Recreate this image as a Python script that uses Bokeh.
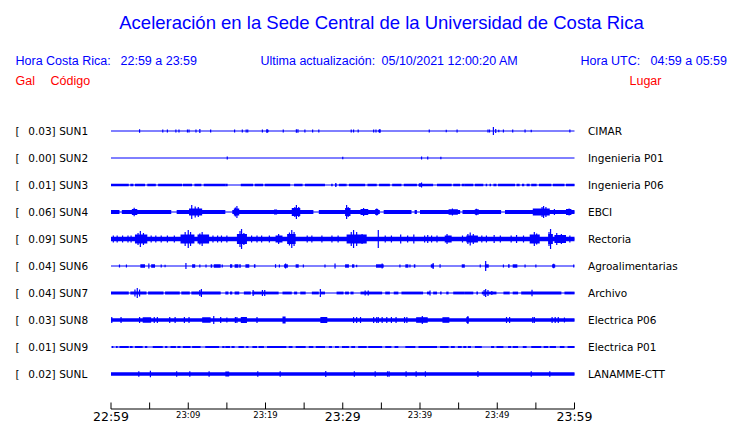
from bokeh.plotting import figure
from bokeh.models import Range1d, ColumnDataSource
from bokeh.core.properties import value
from bokeh.embed import file_html
from bokeh.resources import INLINE

# ---------------- data ----------------
codes = ["SUN1", "SUN2", "SUN3", "SUN4", "SUN5", "SUN6", "SUN7", "SUN8", "SUN9", "SUNL"]
gal = ["0.03", "0.00", "0.01", "0.06", "0.09", "0.04", "0.04", "0.03", "0.01", "0.02"]
places = ["CIMAR", "Ingenieria P01", "Ingenieria P06", "EBCI", "Rectoria",
          "Agroalimentarias", "Archivo", "Electrica P06", "Electrica P01", "LANAMME-CTT"]

tick_minutes = [0, 5, 10, 15, 20, 25, 30, 35, 40, 45, 50, 55, 60]
major_minutes = [0, 30, 60]
major_labels = ["22:59", "23:29", "23:59"]
minor_minutes = [10, 20, 40, 50]
minor_labels = ["23:09", "23:19", "23:39", "23:49"]

# envelope of each trace: base half-amplitude, noisy bands (t0, t1, amp), spikes (t, amp)
# times in minutes after 22:59
base_amp = [0.5, 0.5, 0.5, 0.5, 2.3, 0.5, 0.5, 1.7, 0.5, 1.7]

sun1_bands = [(20.1, 20.4, 1.2), (34.6, 34.9, 1.2)]
sun1_spikes = [(3.7, 1.7), (6.7, 1.5), (7.3, 1.5), (8.4, 1.5), (8.8, 1.5), (9.9, 1.5), (10.1, 1.5),
               (11.0, 1.5), (11.5, 2.0), (12.9, 1.5), (16.0, 1.5), (17.0, 1.5), (17.5, 1.5), (17.7, 1.5),
               (19.6, 1.5), (20.2, 2.0), (22.3, 1.5), (24.0, 1.7), (24.2, 1.7), (25.1, 1.5), (26.1, 1.5),
               (26.9, 1.5), (31.1, 1.5), (31.4, 1.5), (32.0, 1.5), (34.0, 1.5), (34.3, 1.5), (34.8, 2.0),
               (41.2, 1.5), (43.4, 1.2), (44.8, 1.5), (48.8, 1.5), (49.0, 1.5), (49.5, 4.0), (49.8, 2.0),
               (50.2, 1.2), (50.8, 1.5), (52.0, 1.5), (53.6, 1.5), (54.4, 1.2), (59.4, 1.5)]

sun2_bands = []
sun2_spikes = [(15.05, 1.5), (30.0, 1.2), (40.2, 1.5), (41.0, 1.5), (42.7, 1.2)]

sun3_bands = [(0.0, 2.3, 1.3), (2.5, 2.9, 1.3), (3.1, 4.4, 1.3), (4.7, 5.8, 1.3), (6.1, 9.2, 1.3),
              (9.3, 10.5, 1.3), (10.8, 11.7, 1.3), (12.0, 14.8, 1.3), (14.8, 15.1, 1.3), (16.8, 18.4, 1.3),
              (18.6, 19.7, 1.3), (19.9, 23.2, 1.3), (23.7, 24.8, 1.3), (25.1, 27.7, 1.3), (28.5, 28.7, 1.3),
              (29.0, 29.2, 1.3), (29.5, 30.3, 1.3), (30.3, 30.5, 1.3), (30.8, 32.9, 1.3), (33.2, 34.4, 1.3),
              (34.7, 36.1, 1.3), (36.4, 37.6, 1.3), (37.9, 39.6, 1.3), (39.8, 41.7, 1.3), (42.2, 44.1, 1.3),
              (44.3, 45.2, 1.3), (45.4, 45.8, 1.3), (45.8, 46.9, 1.3), (47.1, 48.2, 1.3), (48.5, 48.7, 1.3),
              (49.0, 49.2, 1.3), (49.5, 49.9, 1.3), (50.1, 52.3, 1.3), (52.5, 52.9, 1.3), (53.2, 53.5, 1.3),
              (53.8, 54.2, 1.3), (54.4, 55.1, 1.3), (55.4, 57.0, 1.3), (57.2, 58.7, 1.3), (58.9, 60.0, 1.3)]
sun3_spikes = [(29.1, 2.0), (40.2, 2.5), (40.0, 2.0)]

sun4_bands = [(0.0, 1.1, 2.0), (1.4, 7.8, 2.0), (8.5, 14.8, 2.0), (15.7, 26.2, 2.0), (26.9, 34.8, 2.0),
              (35.3, 38.9, 2.0), (39.3, 39.6, 2.0), (40.0, 45.2, 2.0), (45.5, 50.5, 2.0), (51.0, 60.0, 2.0),
              (2.7, 3.4, 3.0), (10.1, 11.8, 3.5), (15.9, 16.6, 3.5), (21.1, 21.5, 2.5), (23.4, 24.5, 4.0),
              (30.3, 31.0, 4.0), (32.3, 33.3, 3.0), (34.2, 34.6, 3.0), (43.7, 44.9, 2.7), (47.1, 47.6, 2.7),
              (54.6, 56.8, 3.5), (58.9, 59.6, 3.0)]
sun4_spikes = [(3.0, 4.2), (10.45, 7.0), (10.9, 5.5), (11.3, 5.0), (16.3, 6.0), (16.1, 4.5), (24.0, 7.0),
               (23.8, 5.0), (24.3, 5.0), (30.5, 7.0), (30.7, 5.0), (32.7, 4.0), (34.4, 3.5), (44.2, 3.5),
               (47.3, 3.3), (55.8, 5.0), (56.0, 6.0), (56.3, 5.0), (57.4, 3.0), (59.3, 3.5)]

sun5_bands = [(3.1, 4.7, 4.5), (9.0, 10.8, 4.5), (11.2, 12.7, 4.5), (16.3, 17.6, 5.0), (21.3, 22.2, 3.5),
              (22.8, 23.9, 5.0), (30.5, 33.1, 4.5), (43.2, 44.1, 3.5), (46.0, 47.5, 3.5), (54.2, 55.5, 4.5),
              (56.6, 57.2, 5.0), (57.4, 58.9, 4.0)]
sun5_spikes = [(0.3, 3.5), (0.8, 3.5), (1.5, 3.5), (2.2, 3.5), (2.6, 3.5), (5.2, 3.5), (5.8, 3.5),
               (6.5, 3.5), (7.3, 3.5), (8.2, 3.5), (13.2, 3.5), (13.8, 3.5), (14.3, 3.5), (15.0, 3.5),
               (18.2, 3.5), (18.9, 3.5), (19.5, 3.5), (20.5, 3.5), (25.4, 3.5), (26.0, 3.5), (27.3, 3.5),
               (28.6, 3.5), (29.4, 3.5), (35.5, 3.5), (36.3, 3.5), (38.4, 3.5), (40.6, 3.5), (41.5, 3.5),
               (42.2, 3.5), (45.5, 3.5), (48.0, 3.5), (48.6, 3.5), (50.4, 3.5), (51.8, 3.5), (53.4, 3.5),
               (59.4, 3.5),
               (3.8, 8.0), (3.5, 6.0), (4.2, 6.0), (9.6, 7.0), (10.0, 9.0), (10.3, 7.0), (11.8, 7.0),
               (11.5, 5.5), (16.9, 10.0), (16.7, 8.0), (17.2, 6.0), (21.7, 5.0), (23.4, 9.0), (23.1, 6.5),
               (23.7, 7.0), (31.4, 9.0), (31.1, 7.0), (31.8, 7.0), (32.5, 5.0), (34.6, 9.0), (37.5, 4.5),
               (39.2, 4.5), (41.0, 4.0), (43.5, 5.0), (46.5, 6.5), (46.2, 5.0), (46.9, 5.0), (49.6, 4.0),
               (52.5, 4.0), (54.8, 7.0), (55.1, 5.5), (56.9, 10.0), (56.7, 7.0), (57.7, 6.0), (58.3, 5.0)]

sun6_bands = [(3.8, 4.4, 1.7), (5.2, 5.7, 1.7), (10.5, 10.9, 1.7), (12.9, 13.1, 1.7), (13.3, 14.2, 1.7),
              (15.4, 15.7, 1.7), (16.0, 16.5, 1.7), (16.6, 16.8, 1.7), (17.4, 17.9, 1.7), (18.5, 18.7, 1.7),
              (22.4, 22.9, 1.7), (23.9, 24.3, 1.7), (30.3, 30.8, 1.7), (31.2, 31.5, 1.7), (34.3, 35.3, 1.7),
              (38.1, 38.5, 1.7), (39.2, 39.4, 1.7), (41.4, 41.8, 1.7), (45.4, 45.8, 1.7), (48.4, 48.9, 1.7),
              (51.4, 51.6, 1.7), (52.0, 52.6, 1.7), (57.1, 57.5, 1.7)]
sun6_spikes = [(1.1, 1.5), (2.0, 1.5), (4.9, 2.5), (6.5, 1.5), (7.0, 1.2), (9.7, 3.0), (11.5, 1.5),
               (12.3, 1.5), (14.4, 1.5), (21.3, 1.8), (21.8, 1.5), (22.6, 2.5), (24.9, 1.5), (27.7, 1.5),
               (29.0, 2.5), (31.8, 1.2), (35.1, 2.5), (37.4, 1.5), (38.7, 1.5), (41.7, 3.0), (42.6, 1.8),
               (47.8, 1.5), (48.5, 5.0), (50.8, 1.5), (53.6, 1.5), (55.0, 1.5), (57.3, 2.2), (59.9, 1.5)]

sun7_bands = [(0.0, 2.3, 1.4), (2.5, 4.6, 1.4), (4.8, 6.8, 1.4), (7.0, 8.9, 1.4), (9.1, 10.2, 1.4),
              (10.4, 14.2, 1.4), (14.8, 15.2, 1.4), (15.4, 15.7, 1.4), (16.0, 16.6, 1.4), (17.2, 18.1, 1.4),
              (18.3, 21.7, 1.4), (22.2, 23.4, 1.4), (23.7, 24.1, 1.4), (24.5, 25.2, 1.4), (26.0, 26.9, 1.4),
              (27.1, 27.7, 1.4), (29.2, 30.1, 1.4), (30.3, 30.8, 1.4), (31.0, 31.4, 1.4), (32.3, 35.1, 1.4),
              (35.5, 36.1, 1.4), (36.6, 37.2, 1.4), (37.6, 40.4, 1.4), (40.9, 41.3, 1.4), (41.7, 42.2, 1.4),
              (42.6, 42.8, 1.4), (43.4, 43.7, 1.4), (44.3, 45.8, 1.4), (45.8, 46.9, 1.4), (47.3, 47.5, 1.4),
              (48.0, 49.9, 1.4), (50.8, 51.6, 1.4), (52.0, 52.7, 1.4), (53.1, 58.3, 1.4), (58.7, 60.0, 1.4)]
sun7_spikes = [(3.4, 5.0), (3.1, 3.5), (3.7, 3.5), (11.7, 4.0), (11.5, 3.0), (18.4, 3.0), (19.6, 3.0),
               (19.9, 3.0), (27.1, 4.0), (32.9, 2.5), (33.3, 2.5), (41.3, 2.5), (48.5, 4.0), (48.3, 3.0),
               (48.8, 3.0), (49.3, 2.0), (54.5, 3.3)]

sun8_bands = [(4.1, 5.2, 2.8), (11.8, 12.9, 2.7), (16.8, 17.6, 3.0), (22.2, 22.6, 3.5), (27.1, 28.0, 3.0),
              (39.5, 41.0, 2.8), (42.9, 43.8, 2.8), (46.0, 46.3, 3.0)]
sun8_spikes = [(0.1, 3.0), (1.3, 3.0), (3.7, 3.0), (5.6, 3.0), (6.0, 3.0), (7.6, 3.0), (8.3, 3.0),
               (9.5, 3.0), (10.1, 3.0), (13.3, 4.0), (14.2, 3.0), (15.0, 2.5), (16.1, 3.0), (16.3, 3.0),
               (18.9, 3.0), (31.4, 3.0), (31.8, 3.0), (32.3, 3.0), (34.0, 3.0), (34.4, 3.0), (34.6, 3.0),
               (35.1, 3.0), (35.7, 3.0), (36.3, 3.0), (36.9, 3.0), (38.0, 3.0), (38.3, 3.0), (40.3, 4.0),
               (46.2, 4.0), (51.2, 3.0), (51.6, 3.0), (54.6, 3.0), (54.8, 3.0), (57.1, 3.0), (57.5, 3.0),
               (57.9, 3.0), (58.7, 2.5)]

sun9_bands = [(0.13, 0.3, 1.0), (0.65, 0.86, 1.0), (1.1, 2.3, 1.0), (2.45, 2.8, 1.0), (3.1, 4.1, 1.0),
              (4.4, 4.7, 1.0), (5.4, 6.7, 1.0), (7.0, 7.3, 1.0), (7.7, 8.4, 1.0), (8.6, 9.0, 1.0),
              (9.3, 10.3, 1.0), (10.5, 11.6, 1.0), (12.2, 14.0, 1.0), (14.4, 14.7, 1.0), (14.8, 15.4, 1.0),
              (15.6, 16.0, 1.0), (16.5, 17.2, 1.0), (17.5, 17.8, 1.0), (18.3, 18.9, 1.0), (19.1, 19.8, 1.0),
              (20.2, 22.7, 1.0), (23.0, 23.5, 1.0), (23.9, 25.2, 1.0), (25.6, 26.2, 1.0), (26.5, 27.7, 1.0),
              (28.2, 28.6, 1.0), (29.0, 29.5, 1.0), (29.9, 30.3, 1.0), (30.3, 30.8, 1.0), (31.1, 31.6, 1.0),
              (32.0, 33.1, 1.0), (33.3, 35.1, 1.0), (35.5, 36.3, 1.0), (36.7, 37.2, 1.0), (38.1, 39.4, 1.0),
              (39.8, 42.2, 1.0), (42.6, 43.7, 1.0), (44.0, 44.5, 1.0), (44.9, 45.4, 1.0), (45.6, 46.0, 1.0),
              (46.2, 46.6, 1.0), (47.1, 48.0, 1.0), (49.2, 49.6, 1.0), (49.9, 50.8, 1.0), (51.4, 51.8, 1.0),
              (52.0, 52.7, 1.0), (53.3, 53.8, 1.0), (54.4, 55.7, 1.0), (56.0, 56.6, 1.0), (56.8, 57.6, 1.0),
              (58.1, 58.7, 1.0), (59.1, 60.0, 1.0)]
sun9_spikes = []

sunl_bands = [(14.8, 15.3, 2.5)]
sunl_spikes = [(3.6, 2.7), (5.1, 3.3), (8.5, 2.7), (10.2, 2.7), (12.7, 2.7), (19.0, 2.7), (21.9, 2.7),
               (27.8, 3.0), (31.5, 2.7), (34.2, 2.7), (35.8, 2.7), (36.0, 2.7), (38.2, 2.7), (39.5, 2.7),
               (40.7, 2.7), (47.5, 3.0), (54.4, 2.7), (56.8, 2.7)]

all_bands = [sun1_bands, sun2_bands, sun3_bands, sun4_bands, sun5_bands,
             sun6_bands, sun7_bands, sun8_bands, sun9_bands, sunl_bands]
all_spikes = [sun1_spikes, sun2_spikes, sun3_spikes, sun4_spikes, sun5_spikes,
              sun6_spikes, sun7_spikes, sun8_spikes, sun9_spikes, sunl_spikes]

# ---------------- layout helpers ----------------
W, H = 740, 423
X0_PX, PX_PER_MIN = 110.5, 7.725     # x of 22:59, pixels per minute
Y0_PX, ROW_PX = 130.5, 27.0          # y of first trace, row spacing
AMP = 1.0 / ROW_PX                   # amplitude unit -> row units
BLUE = "#0000ff"
RED = "#ff0000"


def sx(px):
    return (px - X0_PX) / PX_PER_MIN


def sy(py):
    return -(py - Y0_PX) / ROW_PX


p = figure(width=W, height=H, output_backend="svg", toolbar_location=None,
           x_range=Range1d(-X0_PX / PX_PER_MIN, (W - X0_PX) / PX_PER_MIN),
           y_range=Range1d(-(H - Y0_PX) / ROW_PX, Y0_PX / ROW_PX),
           min_border=0, min_border_left=0, min_border_right=0, min_border_top=0, min_border_bottom=0)
p.axis.visible = False
p.grid.visible = False
p.outline_line_color = None
p.background_fill_color = "white"
p.border_fill_color = "white"

# ---------------- traces ----------------
ql, qr, qb, qt = [], [], [], []
sx0, sy0, sy1 = [], [], []
bx0, bx1, by = [], [], []
for i in range(len(codes)):
    yc = -i
    if base_amp[i] > 0.6:
        ql.append(0); qr.append(60); qb.append(yc - base_amp[i] * AMP); qt.append(yc + base_amp[i] * AMP)
    bx0.append(0); bx1.append(60); by.append(yc)
    for (t0, t1, a) in all_bands[i]:
        ql.append(t0); qr.append(t1); qb.append(yc - a * AMP); qt.append(yc + a * AMP)
    for (t, a) in all_spikes[i]:
        sx0.append(t); sy0.append(yc - a * AMP); sy1.append(yc + a * AMP)

p.segment(x0=bx0, x1=bx1, y0=by, y1=by, line_color=BLUE, line_width=1)
p.quad(left=ql, right=qr, bottom=qb, top=qt, fill_color=BLUE, line_color=None)
p.segment(x0=sx0, x1=sx0, y0=sy0, y1=sy1, line_color=BLUE, line_width=1.2)

# ---------------- row labels ----------------
rows = list(range(len(codes)))
lab = ColumnDataSource(dict(
    yb=[-r for r in rows],
    br=["[" for _ in rows],
    val=[g + "]" for g in gal],
    code=codes,
    place=places,
    xb=[sx(15)] * len(rows),
    xv=[sx(27.7)] * len(rows),
    xc=[sx(58.7)] * len(rows),
    xp=[sx(587.5)] * len(rows),
))
for col, xcol in [("br", "xb"), ("val", "xv"), ("code", "xc"), ("place", "xp")]:
    p.text(x=xcol, y="yb", text=col, source=lab, text_font=value("DejaVu Sans"),
           text_font_size="10.5px", text_color="black", text_baseline="middle", text_align="left")

# ---------------- time axis ----------------
ax_y = sy(408.5)
p.segment(x0=[0], x1=[60], y0=[ax_y], y1=[ax_y], line_color="black", line_width=1)
p.segment(x0=tick_minutes, x1=tick_minutes, y0=[ax_y] * len(tick_minutes),
          y1=[sy(402)] * len(tick_minutes), line_color="black", line_width=1)
p.text(x=major_minutes, y=[sy(415.5)] * 3, text=major_labels, text_font=value("DejaVu Sans"),
       text_font_size="12.5px", text_color="black", text_baseline="middle", text_align="center")
p.text(x=minor_minutes, y=[sy(414.5)] * 4, text=minor_labels, text_font=value("DejaVu Sans"),
       text_font_size="8.5px", text_color="black", text_baseline="middle", text_align="center")

# ---------------- header ----------------
p.text(x=[sx(381)], y=[sy(22)], text=["Aceleración en la Sede Central de la Universidad de Costa Rica"],
       text_font=value("Liberation Sans"), text_font_size="18.5px", text_color=BLUE,
       text_baseline="middle", text_align="center")
hdr_x = [sx(15), sx(120), sx(260), sx(381), sx(580), sx(650)]
hdr_t = ["Hora Costa Rica:", "22:59 a 23:59", "Ultima actualización:", "05/10/2021 12:00:20 AM",
         "Hora UTC:", "04:59 a 05:59"]
p.text(x=hdr_x, y=[sy(60)] * len(hdr_x), text=hdr_t, text_font=value("Liberation Sans"),
       text_font_size="12.5px", text_color=BLUE, text_baseline="middle", text_align="left")
p.text(x=[sx(15), sx(50), sx(629)], y=[sy(80)] * 3, text=["Gal", "Código", "Lugar"],
       text_font=value("Liberation Sans"), text_font_size="12.5px", text_color=RED,
       text_baseline="middle", text_align="left")

open("out.html", "w").write(file_html(p, INLINE))
